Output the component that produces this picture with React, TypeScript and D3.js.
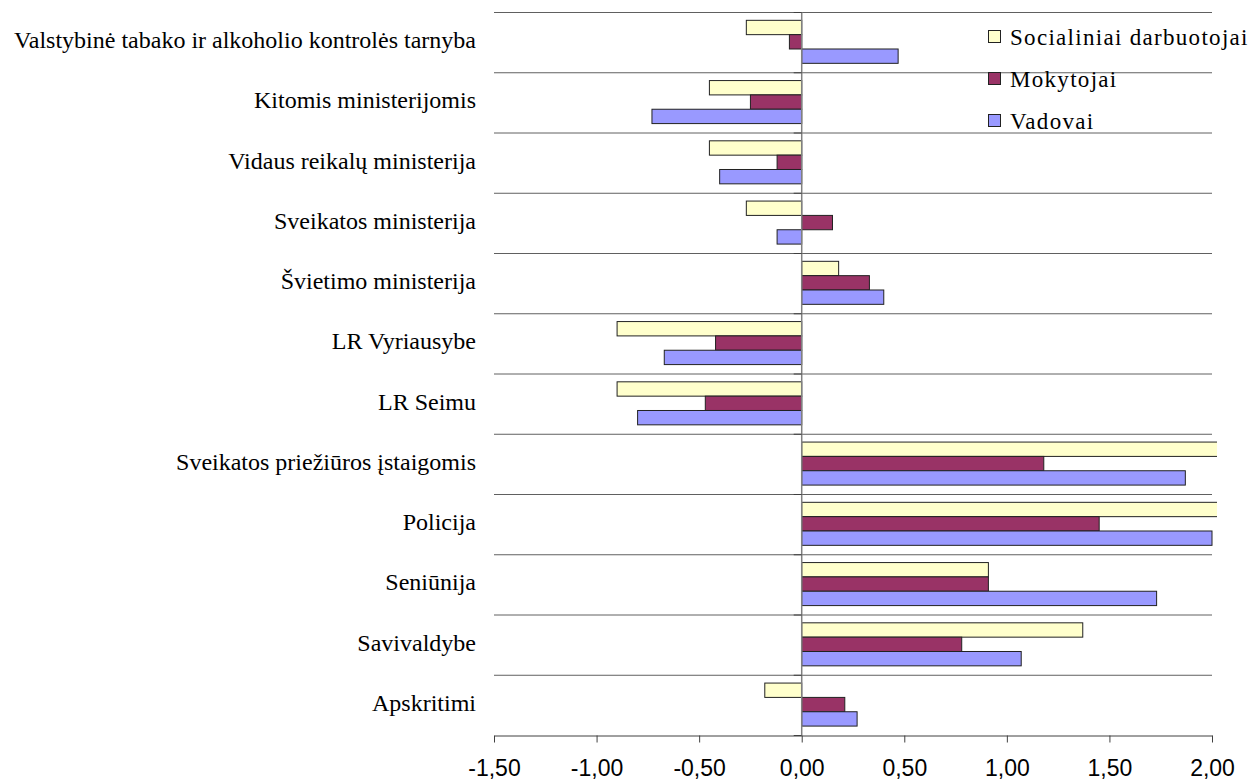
import React, { useRef, useEffect } from "react"
import * as d3 from "d3"

const categories = [
	"Valstybinė tabako ir alkoholio kontrolės tarnyba",
	"Kitomis ministerijomis",
	"Vidaus reikalų ministerija",
	"Sveikatos ministerija",
	"Švietimo ministerija",
	"LR Vyriausybe",
	"LR Seimu",
	"Sveikatos priežiūros įstaigomis",
	"Policija",
	"Seniūnija",
	"Savivaldybe",
	"Apskritimi",
]

const seriesNames = ["Socialiniai darbuotojai", "Mokytojai", "Vadovai"]
const seriesColors = ["#FFFFCC", "#993366", "#9999FF"]

const socialiniai = [-0.27, -0.45, -0.45, -0.27, 0.18, -0.9, -0.9, 2.05, 2.05, 0.91, 1.37, -0.18]
const mokytojai = [-0.06, -0.25, -0.12, 0.15, 0.33, -0.42, -0.47, 1.18, 1.45, 0.91, 0.78, 0.21]
const vadovai = [0.47, -0.73, -0.4, -0.12, 0.4, -0.67, -0.8, 1.87, 2.0, 1.73, 1.07, 0.27]

const xTicks = [-1.5, -1.0, -0.5, 0, 0.5, 1.0, 1.5, 2.0]

const W = 1249
const H = 782

const Chart: React.FunctionComponent = () => {
	const svgRef = useRef<any>()

	useEffect(() => {
		const svg = d3.select(svgRef.current)
		svg.selectAll("*").remove()

		const left = 494
		const right = 1212
		const top = 12
		const bottom = 735

		const xScale = d3.scaleLinear().domain([-1.5, 2.0]).range([left, right])
		const yScale = d3.scaleBand<string>().domain(categories).range([top, bottom]).padding(0)
		const bw = yScale.bandwidth()
		const inner = d3
			.scaleBand<string>()
			.domain(seriesNames)
			.range([bw * 0.138, bw * 0.852])
			.padding(0)

		const locale = d3.formatLocale({
			decimal: ",",
			thousands: " ",
			grouping: [3],
			currency: ["", ""],
			minus: "-",
		})
		const fmt = locale.format(".2f")

		// plot clip (bars overflowing the max get cut a little past the axis end)
		svg.append("defs")
			.append("clipPath")
			.attr("id", "plotClip")
			.append("rect")
			.attr("x", 0)
			.attr("y", 0)
			.attr("width", right + 5)
			.attr("height", H)

		// horizontal separators
		const bounds = categories.map((c) => yScale(c) as number).concat([bottom])
		svg.append("g")
			.selectAll("line")
			.data(bounds.slice(0, -1))
			.join("line")
			.attr("x1", left)
			.attr("x2", right)
			.attr("y1", (d) => d + 0.5)
			.attr("y2", (d) => d + 0.5)
			.attr("stroke", "#606060")
			.attr("stroke-width", 1)

		// bars
		const allSeries = [socialiniai, mokytojai, vadovai]
		const barsG = svg.append("g").attr("clip-path", "url(#plotClip)")
		seriesNames.forEach((name, si) => {
			barsG.append("g")
				.selectAll("rect")
				.data(allSeries[si])
				.join("rect")
				.attr("x", (d) => Math.min(xScale(0), xScale(d)))
				.attr("width", (d) => Math.abs(xScale(d) - xScale(0)))
				.attr("y", (d, i) => (yScale(categories[i]) as number) + (inner(name) as number))
				.attr("height", inner.bandwidth())
				.attr("fill", seriesColors[si])
				.attr("stroke", "#222")
				.attr("stroke-width", 1)
		})

		// zero axis with boundary ticks
		const x0 = xScale(0)
		svg.append("line")
			.attr("x1", x0)
			.attr("x2", x0)
			.attr("y1", top)
			.attr("y2", bottom)
			.attr("stroke", "#808080")
			.attr("stroke-width", 1.5)
		svg.append("g")
			.selectAll("line")
			.data(bounds)
			.join("line")
			.attr("x1", x0 - 8)
			.attr("x2", x0)
			.attr("y1", (d) => d + 0.5)
			.attr("y2", (d) => d + 0.5)
			.attr("stroke", "#404040")
			.attr("stroke-width", 1)

		// bottom axis
		const xAxis = d3
			.axisBottom(xScale)
			.tickValues(xTicks)
			.tickFormat((d) => fmt(d as number))
			.tickSize(7)
			.tickSizeOuter(0)
			.tickPadding(17)
		const ax = svg.append("g").attr("transform", `translate(0, ${bottom + 0.5})`).call(xAxis)
		ax.select(".domain").attr("stroke", "#404040")
		ax.selectAll(".tick line").attr("stroke", "#404040")
		ax.selectAll(".tick text")
			.attr("fill", "#000")
			.style("font-family", "'Liberation Sans', Arial, sans-serif")
			.style("font-size", "23px")

		// category labels
		svg.append("g")
			.selectAll("text")
			.data(categories)
			.join("text")
			.attr("x", 476)
			.attr("y", (d) => (yScale(d) as number) + bw / 2 + 6)
			.attr("text-anchor", "end")
			.style("font-family", "'Liberation Serif', 'Times New Roman', serif")
			.style("font-size", "24px")
			.attr("fill", "#000")
			.text((d) => d)

		// legend
		const lg = svg.append("g").attr("transform", "translate(988, 45)")
		seriesNames.forEach((name, i) => {
			const g = lg.append("g").attr("transform", `translate(0, ${i * 42})`)
			g.append("rect")
				.attr("x", 0.5)
				.attr("y", -14.5)
				.attr("width", 12)
				.attr("height", 12)
				.attr("fill", seriesColors[i])
				.attr("stroke", "#222")
			g.append("text")
				.attr("x", 22)
				.attr("y", 0)
				.style("font-family", "'Liberation Serif', 'Times New Roman', serif")
				.style("font-size", "23px")
				.style("letter-spacing", "1.3px")
				.attr("fill", "#000")
				.text(name)
		})
	}, [])

	return (
		<svg
			ref={svgRef}
			width={W}
			height={H}
			style={{ position: "absolute", left: 0, top: 0, background: "#fff" }}
		></svg>
	)
}

export default function App() {
	return <Chart />
}
